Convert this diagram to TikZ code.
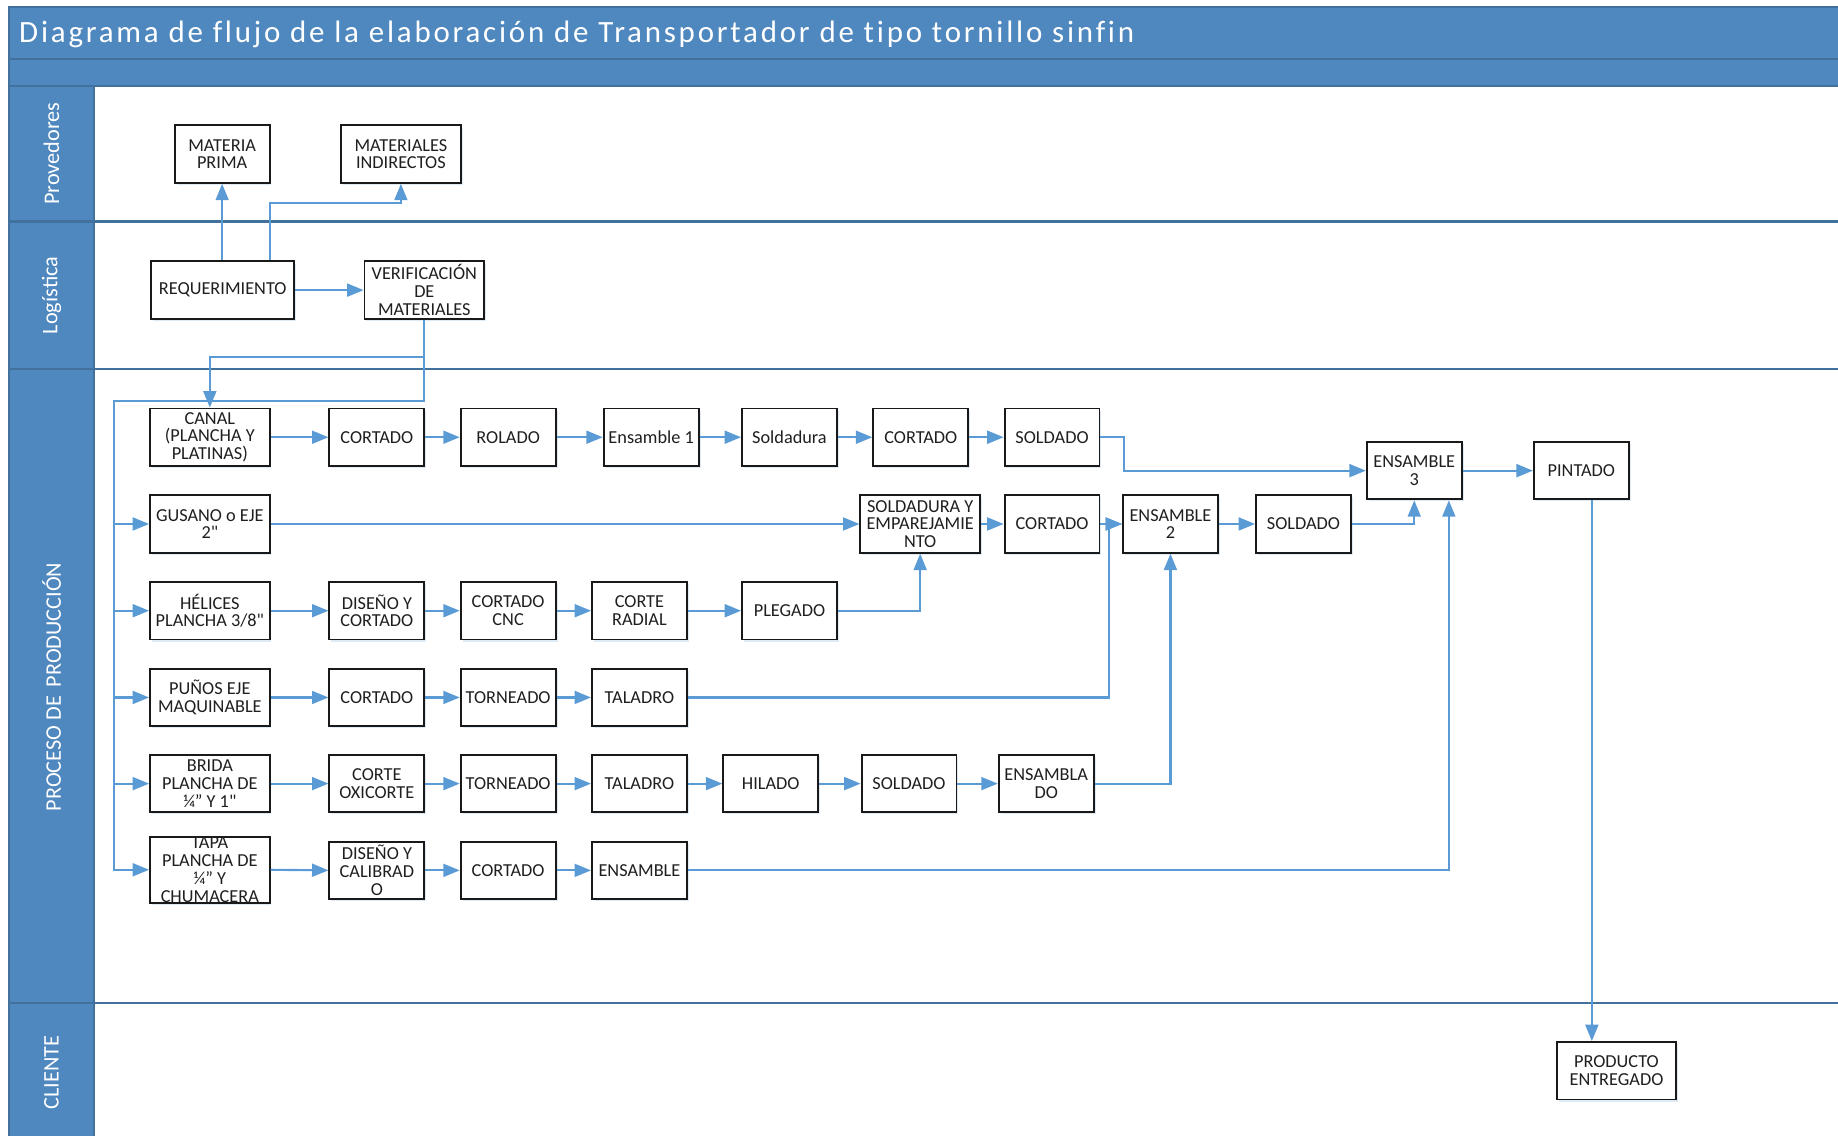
\documentclass[tikz,border=0pt]{standalone}
\usepackage{fontspec}
\setmainfont{Carlito}[Ligatures=TeXOff]
\newfontfamily\titlefont{Carlito}[LetterSpace=9, Ligatures={NoCommon,TeXOff}]
\usetikzlibrary{arrows.meta,calc,shadows}
\definecolor{laneblue}{HTML}{4F87BF}
\definecolor{laneline}{HTML}{41719C}
\definecolor{flow}{HTML}{5B9BD5}
\definecolor{boxtext}{HTML}{1F1F1F}
\begin{document}
\begin{tikzpicture}[x=0.5pt,y=-0.5pt,
  pbox/.style={draw=black!90, line width=0.8pt, fill=white, inner sep=0pt,
    minimum width=40.5pt, minimum height=24.5pt, align=center, text=boxtext,
    font=\fontsize{7.8}{7.6}\selectfont,
    drop shadow={shadow xshift=0.8pt, shadow yshift=-0.9pt, fill=flow!45, opacity=0.45}},
  wbox/.style={pbox, minimum width=51pt},
  arr/.style={draw=flow, line width=0.9pt, -{Triangle[length=7pt,width=5.5pt]}},
  sep/.style={draw=laneline, line width=1pt},
  lanelabel/.style={text=white, rotate=90, font=\fontsize{9.5}{10}\selectfont, inner sep=0pt}
]
\useasboundingbox (0,0) rectangle (1568,969);

% swimlane frame: title bar, blank band and lane header column
\fill[laneblue] (7.6,5.7) rectangle (1568,73.4);
\fill[laneblue] (7.6,73.4) rectangle (80,969);
\draw[sep] (7.6,969) -- (7.6,5.7) -- (1568,5.7);
\draw[sep] (7.6,50.6) -- (1568,50.6);
\draw[sep] (7.6,73.4) -- (1568,73.4);
\draw[sep] (80,73.4) -- (80,969);
\draw[sep] (7.6,189) -- (1568,189);
\draw[sep] (7.6,314.8) -- (1568,314.8);
\draw[sep] (7.6,855.4) -- (1568,855.4);

\node[anchor=base west, inner sep=0pt, text=white, font=\titlefont\fontsize{13.2}{15}\selectfont] (title) at (16,36)
  {Diagrama de flujo de la elaboración de Transportador de tipo tornillo sinfin};

\node[lanelabel] (lprov) at (44,131) {Provedores};
\node[lanelabel] (llog) at (44,252) {Logística};
\node[lanelabel] (lprod) at (44,586) {PROCESO DE \,PRODUCCIÓN};
\node[lanelabel] (lcli) at (44,915) {CLIENTE};

% Provedores
\node[pbox] (mp) at (189.5,131.5) {MATERIA\\PRIMA};
\node[wbox] (mi) at (342,131.5) {MATERIALES\\INDIRECTOS};
% Logistica
\node[pbox, minimum width=61pt] (req) at (190,247.5) {REQUERIMIENTO};
\node[wbox] (ver) at (362,247.5) {VERIFICACIÓN\\DE\\MATERIALES};

% Proceso de produccion, row 1
\node[wbox] (canal) at (179,373) {CANAL\\(PLANCHA Y\\PLATINAS)};
\node[pbox] (a2) at (321.5,373) {CORTADO};
\node[pbox] (a3) at (433.5,373) {ROLADO};
\node[pbox] (a4) at (555.5,373) {Ensamble 1};
\node[pbox] (a5) at (673.5,373) {Soldadura};
\node[pbox] (a6) at (785.5,373) {CORTADO};
\node[pbox] (a7) at (897.5,373) {SOLDADO};
\node[pbox] (ens3) at (1206.5,401.5) {ENSAMBLE\\3};
\node[pbox] (pint) at (1349,401.5) {PINTADO};

% row 2
\node[wbox] (gus) at (179,447) {GUSANO o EJE\\2"};
\node[wbox] (sye) at (785,447) {SOLDADURA Y\\EMPAREJAMIE\\NTO};
\node[pbox] (b2) at (897.5,447) {CORTADO};
\node[pbox] (ens2) at (998.5,447) {ENSAMBLE\\2};
\node[pbox] (b4) at (1112,447) {SOLDADO};

% row 3
\node[wbox] (hel) at (179,521) {HÉLICES\\PLANCHA 3/8"};
\node[pbox] (c2) at (321.5,521) {DISEÑO Y\\CORTADO};
\node[pbox] (c3) at (433.5,521) {CORTADO\\CNC};
\node[pbox] (c4) at (545.5,521) {CORTE\\RADIAL};
\node[pbox] (pleg) at (673.5,521) {PLEGADO};

% row 4
\node[wbox] (pun) at (179,595) {PUÑOS EJE\\MAQUINABLE};
\node[pbox] (d2) at (321.5,595) {CORTADO};
\node[pbox] (d3) at (433.5,595) {TORNEADO};
\node[pbox] (d4) at (545.5,595) {TALADRO};

% row 5
\node[wbox] (bri) at (179,668.5) {BRIDA\\PLANCHA DE\\¼” Y 1"};
\node[pbox] (e2) at (321.5,668.5) {CORTE\\OXICORTE};
\node[pbox] (e3) at (433.5,668.5) {TORNEADO};
\node[pbox] (e4) at (545.5,668.5) {TALADRO};
\node[pbox] (e5) at (657.5,668.5) {HILADO};
\node[pbox] (e6) at (775.5,668.5) {SOLDADO};
\node[pbox] (e7) at (892.5,668.5) {ENSAMBLA\\DO};

% row 6
\node[wbox, minimum height=28pt] (tapa) at (179,742) {TAPA\\PLANCHA DE\\¼” Y\\CHUMACERA};
\node[pbox] (f2) at (321.5,742.5) {DISEÑO Y\\CALIBRAD\\O};
\node[pbox] (f3) at (433.5,742.5) {CORTADO};
\node[pbox] (f4) at (545.5,742.5) {ENSAMBLE};

% Cliente
\node[wbox] (prod) at (1379,913.5) {PRODUCTO\\ENTREGADO};

% connectors: requirement and verification
\draw[arr] (req.north -| mp.south) -- (mp.south);
\draw[arr] ([xshift=20pt]req.north) |- ($(mi.south)+(0,16)$) -- (mi.south);
\draw[arr] (req.east) -- (ver.west);
\draw[arr] (ver.south) |- ($(canal.north)+(0,-43)$) -- (canal.north);
\coordinate (bustop) at (97,342);
\draw[arr] (ver.south) |- (bustop) |- (tapa.west);
\foreach \n in {gus,hel,pun,bri}
  \draw[arr] (bustop |- \n.west) -- (\n.west);

% straight runs along each row
\foreach \a/\b in {canal/a2,a2/a3,a3/a4,a4/a5,a5/a6,a6/a7,
                   gus/sye,sye/b2,b2/ens2,ens2/b4,
                   hel/c2,c2/c3,c3/c4,c4/pleg,
                   pun/d2,d2/d3,d3/d4,
                   bri/e2,e2/e3,e3/e4,e4/e5,e5/e6,e6/e7,
                   tapa/f2,f2/f3,f3/f4,ens3/pint}
  \draw[arr] (\a.east) -- (\b.west);

% merges into the assemblies
\draw[arr] (a7.east) -- ++(20,0) |- (ens3.west);
\draw[arr] (b4.east) -| (ens3.south);
\draw[arr] (pleg.east) -| (sye.south);
\draw[arr] (d4.east) -| ($(ens2.west)+(-11,0)$) -- (ens2.west);
\draw[arr] (e7.east) -| (ens2.south);
\draw[arr] (f4.east) -| ($(ens3.south)+(29.5,0)$);
\draw[arr] ([xshift=4.5pt]pint.south) -- ([xshift=4.5pt]pint.south |- prod.north);
\end{tikzpicture}
\end{document}
